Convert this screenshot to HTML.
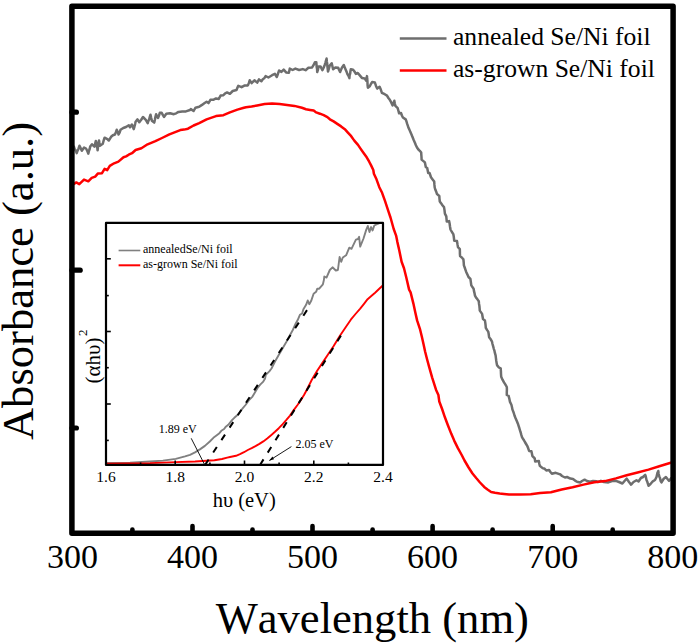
<!DOCTYPE html>
<html><head><meta charset="utf-8"><style>
html,body{margin:0;padding:0;background:#fff;width:699px;height:644px;overflow:hidden}
</style></head><body>
<svg width="699" height="644" viewBox="0 0 699 644" style="position:absolute;left:0;top:0"><polyline points="72.0,145.7 73.9,146.6 74.7,149.1 75.8,150.7 76.7,153.1 77.6,150.6 78.6,148.5 79.5,145.7 80.5,147.8 81.8,150.8 84.1,147.5 86.0,148.5 87.3,151.0 88.3,153.6 89.0,150.8 89.6,149.2 90.2,146.6 92.0,144.3 94.4,146.6 95.0,144.2 95.8,141.0 96.4,142.9 96.6,145.7 97.3,147.9 97.6,150.3 97.9,147.8 98.2,145.1 98.6,142.9 99.0,140.5 99.4,142.8 100.0,145.7 102.8,143.8 103.6,140.7 104.6,137.7 107.4,139.1 108.8,140.5 111.1,136.8 112.9,135.2 114.9,134.5 115.9,132.2 116.7,129.8 117.7,131.8 118.6,134.5 119.7,132.5 120.5,129.8 123.3,128.0 126.0,127.0 128.8,125.2 130.0,127.3 131.9,124.5 132.7,126.6 133.7,129.1 134.4,126.8 135.1,124.1 135.6,121.7 137.5,119.4 139.3,122.2 141.2,119.8 143.0,117.0 145.8,119.8 147.7,123.1 148.3,121.1 149.2,119.2 149.8,116.9 150.5,114.7 151.1,117.5 151.9,120.8 154.2,122.6 154.9,119.7 155.4,117.0 156.1,114.2 158.0,118.0 159.0,115.6 159.8,112.8 161.7,112.8 162.8,114.8 164.0,117.0 166.3,113.8 170.1,113.3 173.8,114.2 176.2,113.3 178.5,111.9 182.2,111.4 185.9,111.4 190.0,110.0 190.8,109.1 193.6,111.0 195.5,107.7 199.2,106.8 202.0,104.9 204.3,103.2 206.6,101.7 208.5,103.1 210.4,99.8 213.2,99.8 216.0,98.4 218.8,98.9 220.6,95.6 223.4,95.2 225.2,93.3 227.1,92.4 229.9,93.8 232.7,91.0 236.5,90.0 237.3,88.1 238.3,85.8 241.6,87.2 244.8,85.4 247.9,85.4 248.9,82.9 249.7,80.3 251.6,83.1 254.4,80.3 257.2,82.6 259.0,79.4 261.4,81.2 262.8,79.2 264.2,78.3 265.6,76.1 268.4,77.5 272.1,75.2 274.9,73.8 276.8,77.0 277.6,74.9 278.4,72.4 279.1,70.5 281.4,71.9 283.7,69.6 286.1,72.4 288.9,72.8 289.8,68.6 292.6,70.0 295.4,68.6 299.1,70.0 302.8,69.1 305.6,70.2 308.4,67.8 312.1,67.4 313.5,65.2 314.9,62.2 316.3,62.2 316.5,64.6 316.7,67.1 317.1,69.2 317.2,72.0 318.0,69.5 318.6,66.4 320.5,66.4 322.4,70.2 323.6,67.8 324.7,65.0 325.4,62.8 326.0,60.6 326.6,58.5 326.8,61.4 327.2,63.5 327.4,66.3 327.7,68.9 328.0,71.6 328.9,68.6 329.8,65.5 331.7,63.2 332.4,66.2 333.1,69.2 335.4,67.4 338.2,67.8 339.0,69.7 340.1,72.0 340.9,70.0 341.9,67.8 343.8,65.0 344.8,67.6 345.7,69.7 346.7,72.1 347.5,74.2 348.5,75.7 349.4,78.1 349.6,75.5 350.2,73.4 350.4,71.5 350.8,69.2 353.1,69.7 354.5,71.5 355.9,73.9 357.8,73.0 360.0,75.6 361.9,77.9 364.7,78.4 366.1,80.7 366.5,78.4 367.0,76.1 367.1,78.2 367.4,80.7 367.5,83.0 367.6,85.3 367.9,87.7 369.8,86.3 370.9,84.0 372.1,82.1 374.9,82.6 376.0,85.9 377.2,88.6 379.6,86.8 380.8,89.6 381.9,92.8 384.7,94.2 387.0,95.6 388.4,98.0 389.8,99.8 391.1,102.2 392.6,105.4 393.4,103.3 394.3,100.8 394.8,103.5 395.4,105.9 397.7,108.2 398.4,110.8 399.1,113.3 401.0,112.9 401.9,115.5 402.9,117.5 405.7,119.4 406.5,121.5 407.1,123.7 407.8,125.7 408.5,127.8 409.4,129.6 410.4,132.1 411.5,134.5 412.5,137.1 413.7,140.0 414.9,142.7 415.9,145.2 417.0,147.5 418.4,149.5 419.8,150.8 421.2,152.6 421.3,154.6 421.5,157.0 421.6,159.6 424.9,162.4 425.4,165.0 425.8,167.0 427.2,168.0 427.7,170.4 428.2,173.1 429.6,173.1 430.4,175.5 431.0,177.3 432.6,179.4 434.2,181.5 434.4,184.4 434.7,187.5 435.4,189.8 436.2,191.7 437.0,194.1 439.3,195.9 439.5,198.8 439.8,201.5 441.2,203.4 442.6,205.5 444.0,207.1 444.5,210.1 444.9,213.6 446.3,216.4 446.5,218.9 446.8,221.6 449.1,221.1 449.7,224.1 450.0,226.5 450.5,229.5 451.9,232.0 453.3,234.1 453.7,236.2 454.0,238.6 454.2,240.7 457.0,241.1 457.5,244.4 458.0,247.2 459.8,249.1 459.9,251.6 459.9,253.6 460.1,256.1 461.8,257.5 463.4,259.3 463.7,262.4 463.9,265.4 464.7,267.5 465.4,269.6 466.2,271.9 467.4,274.5 468.5,277.0 470.4,278.9 470.9,282.4 471.3,285.4 473.6,288.7 474.0,291.1 474.5,293.1 475.0,295.7 476.2,297.8 477.6,299.6 478.8,301.3 479.0,303.7 479.4,305.9 479.6,308.1 479.8,310.6 482.1,313.9 482.5,316.3 483.0,319.0 484.9,320.4 485.3,322.9 485.6,325.3 485.8,327.8 487.0,329.9 488.2,331.6 488.7,334.1 489.1,337.2 490.5,339.0 491.9,341.3 492.5,344.0 493.1,346.1 493.8,348.8 494.5,350.9 494.9,352.9 495.6,355.3 495.9,357.9 496.2,360.4 496.6,362.9 497.0,365.1 498.9,367.5 500.7,368.4 500.9,371.1 501.0,374.0 501.2,376.8 502.5,379.7 504.0,382.4 505.3,384.4 506.8,387.0 506.9,389.5 506.8,392.3 506.8,395.0 508.6,395.9 509.3,398.6 510.0,401.9 511.4,404.7 512.0,407.3 512.4,409.4 513.5,412.2 514.5,415.5 515.7,418.6 517.0,421.5 517.9,423.7 518.6,425.9 519.3,428.0 520.0,430.4 520.7,432.5 521.3,434.9 522.1,437.4 523.6,439.7 524.9,442.0 526.1,444.0 527.2,445.8 528.2,448.3 529.1,450.9 531.4,451.3 531.9,453.5 532.4,456.0 534.7,458.3 535.2,461.6 538.9,461.1 539.3,463.7 539.8,465.8 542.6,468.1 544.7,468.8 546.3,470.5 549.1,470.0 550.4,472.0 551.9,473.7 555.7,472.8 559.4,474.2 560.1,474.2 562.0,476.0 565.0,477.5 567.0,477.0 570.4,478.6 573.0,479.0 575.1,480.6 577.0,481.8 580.2,482.4 582.0,481.0 584.6,479.7 587.0,481.0 590.0,481.8 593.0,481.0 596.5,481.3 598.0,482.0 600.9,480.8 604.0,482.0 608.3,482.4 612.0,481.0 615.9,480.8 619.0,482.0 622.4,483.5 624.5,481.0 626.7,478.6 629.0,482.0 631.1,484.6 633.5,482.0 636.5,480.2 638.5,481.5 640.9,478.0 643.0,477.0 645.2,474.8 645.7,476.2 646.5,480.0 647.3,481.8 648.5,485.7 650.5,484.0 652.8,481.3 655.0,480.0 656.5,477.0 657.4,473.0 658.3,471.0 658.6,473.7 659.3,476.4 660.0,478.0 660.7,481.1 661.5,482.4 663.5,479.0 665.9,477.0 667.5,479.0 669.1,480.8 671.3,478.0 672.5,479.0" fill="none" stroke="#6e6e6e" stroke-width="2.5" stroke-linejoin="round"/><polyline points="72.0,185.2 76.3,182.4 79.3,184.2 84.0,179.6 88.3,181.3 91.7,177.9 95.2,176.6 97.8,173.6 102.0,173.2 104.6,168.9 107.2,170.2 109.8,165.9 114.1,163.3 118.4,161.6 123.5,157.3 126.1,156.4 128.7,154.7 132.0,153.2 135.6,150.0 141.4,148.2 147.6,144.3 155.4,141.2 162.0,138.0 169.4,134.3 180.3,130.1 184.0,129.6 188.0,128.7 193.6,125.5 199.2,123.1 206.6,119.4 216.0,116.1 223.4,115.2 229.9,112.4 237.4,109.6 243.9,107.7 246.0,107.2 251.6,106.5 257.2,105.5 264.6,104.1 272.1,103.6 279.6,104.1 287.0,105.0 294.5,105.9 301.9,107.8 306.0,109.2 310.0,109.9 313.7,110.6 316.2,112.4 319.9,113.7 323.7,115.2 327.4,117.1 329.9,119.3 333.6,121.4 337.3,123.9 341.1,126.4 344.8,129.2 347.9,132.6 351.2,136.2 354.3,140.6 358.0,144.9 360.5,148.6 363.6,153.0 366.7,157.3 369.2,161.7 371.1,165.4 373.3,170.0 373.9,173.7 376.5,179.3 379.3,187.2 382.1,192.8 384.9,200.7 388.6,211.9 390.5,217.5 393.7,229.0 396.1,235.6 397.4,242.1 399.3,250.5 401.6,261.7 404.0,268.2 406.3,277.5 409.1,289.6 410.6,292.4 413.4,303.6 415.2,312.0 417.1,320.4 419.9,328.8 421.8,336.5 423.6,344.6 425.1,351.5 427.0,359.0 429.0,366.4 432.1,377.3 436.0,389.7 438.4,395.0 439.3,401.5 442.1,409.0 444.9,417.3 447.7,424.8 451.4,434.1 454.2,440.6 457.9,448.1 461.7,455.0 464.5,460.5 468.6,467.5 472.5,473.5 476.4,478.3 480.0,482.5 484.2,486.9 487.5,489.5 491.1,492.0 495.0,492.8 499.7,493.5 504.0,494.0 509.0,494.6 519.9,494.6 530.7,494.2 540.1,493.1 550.9,492.2 561.7,489.5 572.6,487.3 583.5,484.6 594.3,482.3 605.0,481.1 615.9,478.4 626.7,475.3 637.6,472.5 648.5,469.6 659.3,466.3 672.4,462.3" fill="none" stroke="#ff0000" stroke-width="2.5" stroke-linejoin="round"/><rect x="71.9" y="6.3" width="601.2" height="526.9" fill="none" stroke="#000" stroke-width="5.5" stroke-linejoin="round"/><line x1="132.4" y1="533" x2="132.4" y2="529.5" stroke="#000" stroke-width="4.6" stroke-linecap="round"/><line x1="192.5" y1="533" x2="192.5" y2="526.0" stroke="#000" stroke-width="4.6" stroke-linecap="round"/><line x1="252.5" y1="533" x2="252.5" y2="529.5" stroke="#000" stroke-width="4.6" stroke-linecap="round"/><line x1="312.5" y1="533" x2="312.5" y2="526.0" stroke="#000" stroke-width="4.6" stroke-linecap="round"/><line x1="372.6" y1="533" x2="372.6" y2="529.5" stroke="#000" stroke-width="4.6" stroke-linecap="round"/><line x1="432.6" y1="533" x2="432.6" y2="526.0" stroke="#000" stroke-width="4.6" stroke-linecap="round"/><line x1="492.6" y1="533" x2="492.6" y2="529.5" stroke="#000" stroke-width="4.6" stroke-linecap="round"/><line x1="552.7" y1="533" x2="552.7" y2="526.0" stroke="#000" stroke-width="4.6" stroke-linecap="round"/><line x1="612.7" y1="533" x2="612.7" y2="529.5" stroke="#000" stroke-width="4.6" stroke-linecap="round"/><line x1="72" y1="112.2" x2="76.4" y2="112.2" stroke="#000" stroke-width="5.2" stroke-linecap="round"/><line x1="72" y1="270.2" x2="80.2" y2="270.2" stroke="#000" stroke-width="5.2" stroke-linecap="round"/><line x1="72" y1="428" x2="76.4" y2="428" stroke="#000" stroke-width="5.2" stroke-linecap="round"/><text x="72.4" y="568" text-anchor="middle" style="font-family:'Liberation Serif',serif;font-kerning:none;font-size:34px">300</text><text x="192.5" y="568" text-anchor="middle" style="font-family:'Liberation Serif',serif;font-kerning:none;font-size:34px">400</text><text x="312.5" y="568" text-anchor="middle" style="font-family:'Liberation Serif',serif;font-kerning:none;font-size:34px">500</text><text x="432.6" y="568" text-anchor="middle" style="font-family:'Liberation Serif',serif;font-kerning:none;font-size:34px">600</text><text x="552.7" y="568" text-anchor="middle" style="font-family:'Liberation Serif',serif;font-kerning:none;font-size:34px">700</text><text x="672.8" y="568" text-anchor="middle" style="font-family:'Liberation Serif',serif;font-kerning:none;font-size:34px">800</text><text x="372.3" y="633.3" text-anchor="middle" style="font-family:'Liberation Serif',serif;font-kerning:none;font-size:44.6px">Wavelength (nm)</text><text transform="translate(32.6,281) rotate(-90)" x="0" y="0" text-anchor="middle" style="font-family:'Liberation Serif',serif;font-kerning:none;font-size:44.6px">Absorbance (a.u.)</text><line x1="399.8" y1="38.4" x2="446.5" y2="38.4" stroke="#6e6e6e" stroke-width="2.5"/><line x1="399.8" y1="70.5" x2="446.5" y2="70.5" stroke="#ff0000" stroke-width="2.5"/><text x="453" y="44.6" style="font-family:'Liberation Serif',serif;font-kerning:none;font-size:25.6px">annealed Se/Ni foil</text><text x="453" y="77.3" style="font-family:'Liberation Serif',serif;font-kerning:none;font-size:25.6px">as-grown Se/Ni foil</text><rect x="106" y="222.9" width="277" height="242" fill="#fff" stroke="none"/><polyline points="106.5,463.0 130.0,462.6 150.0,461.5 162.9,460.6 175.7,458.9 185.0,456.4 190.0,454.9 195.0,452.4 199.9,449.4 204.9,445.9 209.8,441.5 213.4,437.8 217.1,435.0 219.4,433.2 221.3,430.8 224.1,429.0 225.5,427.1 228.3,424.8 232.0,420.1 234.3,417.8 237.8,414.8 242.0,409.2 245.5,405.0 249.0,400.1 252.5,396.6 254.6,393.1 257.4,388.2 260.2,384.7 263.0,381.9 265.1,378.4 265.8,374.9 269.3,371.4 271.5,368.5 275.0,361.5 278.7,355.0 282.5,348.5 286.3,342.0 289.5,336.0 292.8,330.0 295.5,324.0 297.8,319.8 299.9,314.8 302.1,313.5 303.4,309.2 306.1,304.8 307.7,300.5 309.3,304.2 311.1,301.1 313.6,293.7 316.1,291.8 317.3,288.7 319.2,288.7 322.9,284.3 323.9,280.0 324.3,276.5 326.5,277.6 329.8,270.0 332.5,267.3 335.8,270.5 337.9,270.0 339.6,257.0 341.2,261.8 342.8,257.5 346.1,255.3 349.3,247.7 351.5,248.8 355.9,239.6 358.0,239.0 359.1,236.8 360.2,246.6 363.5,238.5 366.2,229.9 367.8,226.0 369.5,232.0 371.1,227.1 372.6,230.5 374.3,225.5 376.5,224.3 379.2,223.3" fill="none" stroke="#808080" stroke-width="1.9" stroke-linejoin="round"/><polyline points="106.5,463.6 150.0,463.1 175.7,462.1 195.1,461.5 214.4,460.2 222.0,459.0 227.2,457.6 230.0,457.0 236.0,455.8 240.0,454.2 244.0,452.2 247.8,450.0 251.7,448.1 255.5,446.1 259.4,443.9 263.3,441.4 267.2,438.5 271.1,435.2 275.0,431.8 278.8,428.2 282.7,424.1 286.6,419.7 290.0,415.6 293.7,410.1 297.5,405.0 300.9,400.0 304.0,395.0 306.7,390.0 309.2,385.0 311.7,380.0 317.0,371.0 322.6,362.6 328.0,354.5 333.5,346.3 337.0,340.5 340.1,335.5 345.5,327.5 350.8,319.7 355.5,314.0 360.2,308.6 364.0,303.8 367.6,299.2 371.3,296.0 375.1,292.7 379.0,289.0 382.5,285.7" fill="none" stroke="#ff0000" stroke-width="1.9" stroke-linejoin="round"/><line x1="205" y1="465" x2="307.1" y2="310" stroke="#000" stroke-width="2" stroke-dasharray="6.6,8.3"/><line x1="260" y1="465" x2="341" y2="335.4" stroke="#000" stroke-width="2" stroke-dasharray="6.6,8"/><rect x="106" y="222.9" width="277" height="242" fill="none" stroke="#000" stroke-width="2.2" stroke-linejoin="round"/><line x1="140.6" y1="465" x2="140.6" y2="462.5" stroke="#000" stroke-width="1.6"/><line x1="175.2" y1="465" x2="175.2" y2="460.5" stroke="#000" stroke-width="1.6"/><line x1="209.9" y1="465" x2="209.9" y2="462.5" stroke="#000" stroke-width="1.6"/><line x1="244.5" y1="465" x2="244.5" y2="460.5" stroke="#000" stroke-width="1.6"/><line x1="279.1" y1="465" x2="279.1" y2="462.5" stroke="#000" stroke-width="1.6"/><line x1="313.8" y1="465" x2="313.8" y2="460.5" stroke="#000" stroke-width="1.6"/><line x1="348.4" y1="465" x2="348.4" y2="462.5" stroke="#000" stroke-width="1.6"/><line x1="106" y1="258.8" x2="110.8" y2="258.8" stroke="#000" stroke-width="1.6"/><line x1="106" y1="295.6" x2="108.8" y2="295.6" stroke="#000" stroke-width="1.6"/><line x1="106" y1="331.5" x2="110.8" y2="331.5" stroke="#000" stroke-width="1.6"/><line x1="106" y1="367.7" x2="108.8" y2="367.7" stroke="#000" stroke-width="1.6"/><line x1="106" y1="404" x2="110.8" y2="404" stroke="#000" stroke-width="1.6"/><line x1="106" y1="440.4" x2="108.8" y2="440.4" stroke="#000" stroke-width="1.6"/><text x="106.0" y="481.7" text-anchor="middle" style="font-family:'Liberation Serif',serif;font-kerning:none;font-size:15.5px">1.6</text><text x="175.2" y="481.7" text-anchor="middle" style="font-family:'Liberation Serif',serif;font-kerning:none;font-size:15.5px">1.8</text><text x="244.5" y="481.7" text-anchor="middle" style="font-family:'Liberation Serif',serif;font-kerning:none;font-size:15.5px">2.0</text><text x="313.8" y="481.7" text-anchor="middle" style="font-family:'Liberation Serif',serif;font-kerning:none;font-size:15.5px">2.2</text><text x="383.0" y="481.7" text-anchor="middle" style="font-family:'Liberation Serif',serif;font-kerning:none;font-size:15.5px">2.4</text><text x="244.2" y="506.5" text-anchor="middle" style="font-family:'Liberation Serif',serif;font-kerning:none;font-size:20.5px">hυ (eV)</text><text transform="translate(99.6,383.5) rotate(-90)" x="0" y="0" style="font-family:'Liberation Serif',serif;font-kerning:none;font-size:21px">(αhυ)<tspan dx="1.5" dy="-12.3" style="font-size:13px">2</tspan></text><line x1="118.6" y1="250.5" x2="140.3" y2="250.5" stroke="#808080" stroke-width="1.6"/><line x1="118.6" y1="265.3" x2="140.3" y2="265.3" stroke="#ff0000" stroke-width="2"/><text x="143" y="252.8" style="font-family:'Liberation Serif',serif;font-kerning:none;font-size:12px">annealedSe/Ni foil</text><text x="143" y="268" style="font-family:'Liberation Serif',serif;font-kerning:none;font-size:12px">as-grown Se/Ni foil</text><text x="158.8" y="432.7" style="font-family:'Liberation Serif',serif;font-kerning:none;font-size:12px">1.89 eV</text><text x="295.5" y="447.9" style="font-family:'Liberation Serif',serif;font-kerning:none;font-size:12px">2.05 eV</text><line x1="191.2" y1="438.3" x2="204.3" y2="464" stroke="#000" stroke-width="0.9"/><line x1="291.4" y1="446.6" x2="269.5" y2="460.4" stroke="#000" stroke-width="0.9"/><path d="M269,460.8 L272.5,456.6 L274,459.2 Z" fill="#000"/></svg>
</body></html>
